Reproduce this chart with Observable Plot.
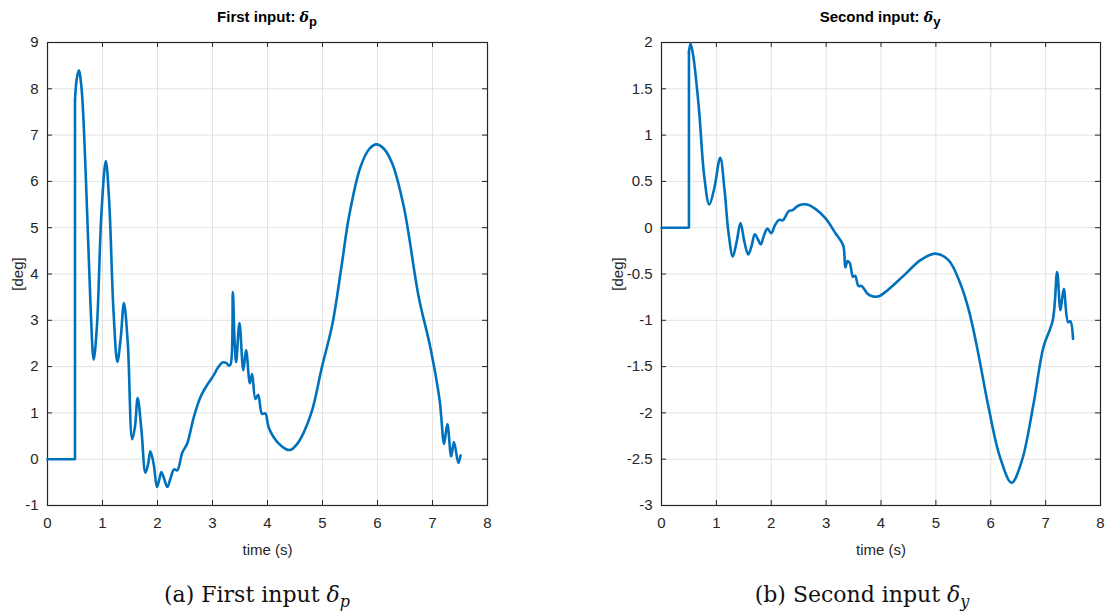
<!DOCTYPE html>
<html>
<head>
<meta charset="utf-8">
<script src="https://cdn.jsdelivr.net/npm/d3@7"></script>
<script src="https://cdn.jsdelivr.net/npm/@observablehq/plot@0.6"></script>
<style>
  body { margin: 0; background: #fff; width: 1106px; height: 612px; position: relative; overflow: hidden; }
  .panel { position: absolute; top: 0; }
  .ttl { position: absolute; top: 8px; font-family: "Liberation Sans Narrow", "Liberation Sans", Arial, sans-serif; font-weight: bold; font-size: 15px; color: #000; white-space: nowrap; transform: translateX(-50%); }
  .ttl sub { font-size: 13px; }
  .cap { position: absolute; top: 582px; font-family: "DejaVu Serif", "Liberation Serif", serif; font-size: 22px; color: #111; white-space: nowrap; transform: translateX(-50%); }
  .cap sub { font-size: 16px; }
</style>
</head>
<body>
<div id="left" class="panel" style="left:0px"></div>
<div id="right" class="panel" style="left:600px"></div>
<script>
// ---- data: first input δp ----
const tP = [0, 0.5, 0.5, 0.53, 0.57, 0.62, 0.7, 0.78, 0.84, 0.9, 0.98, 1.06, 1.12, 1.2, 1.27, 1.33, 1.39, 1.46, 1.54, 1.59, 1.64, 1.71, 1.78, 1.83, 1.87, 1.93, 1.99, 2.03, 2.07, 2.12, 2.18, 2.24, 2.30, 2.36, 2.45, 2.54, 2.66, 2.78, 2.9, 3.02, 3.1, 3.18, 3.25, 3.30, 3.33, 3.37, 3.40, 3.43, 3.49, 3.56, 3.61, 3.68, 3.72, 3.78, 3.83, 3.90, 3.96, 4.02, 4.11, 4.21, 4.33, 4.42, 4.54, 4.66, 4.81, 4.99, 5.18, 5.35, 5.48, 5.69, 5.85, 5.98, 6.12, 6.27, 6.48, 6.75, 6.96, 7.13, 7.16, 7.21, 7.27, 7.34, 7.39, 7.47, 7.51];
const vP = [0, 0, 7.75, 8.2, 8.40, 8.0, 6.0, 3.4, 2.15, 2.9, 5.3, 6.44, 5.6, 3.2, 2.10, 2.6, 3.37, 2.5, 0.43, 0.7, 1.32, 0.6, -0.29, -0.1, 0.17, -0.1, -0.60, -0.45, -0.28, -0.42, -0.60, -0.40, -0.22, -0.24, 0.14, 0.34, 0.91, 1.34, 1.6, 1.81, 1.98, 2.09, 2.08, 2.02, 2.05, 3.61, 2.6, 2.10, 2.94, 1.92, 2.36, 1.64, 1.84, 1.30, 1.39, 0.98, 0.99, 0.69, 0.48, 0.33, 0.22, 0.20, 0.33, 0.58, 1.05, 1.99, 2.92, 4.2, 5.23, 6.31, 6.7, 6.80, 6.7, 6.38, 5.44, 3.50, 2.42, 1.27, 0.9, 0.33, 0.76, 0.06, 0.37, -0.08, 0.08];
// ---- data: second input δy ----
const tY = [0, 0.5, 0.5, 0.53, 0.58, 0.68, 0.78, 0.87, 0.96, 1.07, 1.15, 1.22, 1.30, 1.37, 1.44, 1.51, 1.58, 1.64, 1.70, 1.76, 1.81, 1.87, 1.93, 2.00, 2.07, 2.14, 2.21, 2.32, 2.39, 2.50, 2.65, 2.81, 2.99, 3.17, 3.31, 3.35, 3.39, 3.43, 3.49, 3.53, 3.59, 3.65, 3.75, 3.84, 3.96, 4.11, 4.41, 4.72, 4.99, 5.23, 5.45, 5.60, 5.75, 5.96, 6.17, 6.38, 6.57, 6.78, 6.96, 7.13, 7.21, 7.27, 7.33, 7.41, 7.45, 7.50];
const vY = [0, 0, 1.9, 1.99, 1.85, 1.30, 0.55, 0.25, 0.42, 0.755, 0.4, -0.05, -0.31, -0.15, 0.05, -0.15, -0.29, -0.2, -0.07, -0.13, -0.18, -0.08, -0.01, -0.06, 0.03, 0.085, 0.08, 0.18, 0.19, 0.24, 0.25, 0.20, 0.10, -0.06, -0.19, -0.43, -0.36, -0.38, -0.53, -0.52, -0.63, -0.63, -0.71, -0.74, -0.74, -0.68, -0.52, -0.35, -0.28, -0.35, -0.61, -0.89, -1.29, -1.94, -2.48, -2.755, -2.51, -1.90, -1.29, -1.00, -0.48, -0.89, -0.66, -1.02, -1.01, -1.20];
// ---- ticks ----
const xTicks = [0, 1, 2, 3, 4, 5, 6, 7, 8];
const yTicksP = [-1, 0, 1, 2, 3, 4, 5, 6, 7, 8, 9];
const yTicksY = [-3, -2.5, -2, -1.5, -1, -0.5, 0, 0.5, 1, 1.5, 2];

const FONT = '"Liberation Sans Narrow", "Liberation Sans", Arial, sans-serif';
const AX = "#262626";
const BLUE = "#0072BD";

function chart(t, v, yTicks, yDomain, width, mLeft, mRight) {
  const height = 560, mTop = 42, mBottom = 55;
  const ph = height - mTop - mBottom;
  const pw = width - mLeft - mRight;
  const data = t.map((d, i) => ({t: d, v: v[i]}));
  const stepPart = data.slice(0, 3);      // flat segment + vertical jump (linear)
  const smoothPart = data.slice(2);       // response after the jump (smooth)
  return Plot.plot({
    width, height,
    marginLeft: mLeft, marginRight: mRight, marginTop: mTop, marginBottom: mBottom,
    style: {fontFamily: FONT, fontSize: "15px", color: AX, background: "transparent"},
    x: {domain: [0, 8]},
    y: {domain: yDomain},
    marks: [
      Plot.ruleX(xTicks, {stroke: "#e3e3e3", strokeWidth: 1}),
      Plot.ruleY(yTicks, {stroke: "#e3e3e3", strokeWidth: 1}),
      Plot.ruleX(xTicks, {stroke: AX, insetTop: ph - 5}),
      Plot.ruleX(xTicks, {stroke: AX, insetBottom: ph - 5}),
      Plot.ruleY(yTicks, {stroke: AX, insetRight: pw - 5}),
      Plot.ruleY(yTicks, {stroke: AX, insetLeft: pw - 5}),
      Plot.frame({stroke: AX, strokeWidth: 1.2}),
      Plot.axisX({ticks: xTicks, tickSize: 0, tickPadding: 12, tickFormat: d => String(d), label: "time (s)", labelAnchor: "center", labelArrow: "none", labelOffset: 49, fill: AX}),
      Plot.axisY({ticks: yTicks, tickSize: 0, tickPadding: 9, tickFormat: d => String(d), label: "[deg]", labelAnchor: "center", labelArrow: "none", labelOffset: mLeft - 12, fill: AX}),
      Plot.line(stepPart, {x: "t", y: "v", stroke: BLUE, strokeWidth: 2.6, strokeLinejoin: "miter"}),
      Plot.line(smoothPart, {x: "t", y: "v", stroke: BLUE, strokeWidth: 2.6, curve: "catmull-rom"})
    ]
  });
}

document.getElementById("left").appendChild(chart(tP, vP, yTicksP, [-1, 9], 500, 47, 13));
document.getElementById("right").appendChild(chart(tY, vY, yTicksY, [-3, 2], 506, 61, 6));
</script>
<div class="ttl" style="left:267px">First input: <i style="font-family:'DejaVu Serif',serif;font-size:14px">δ</i><sub>p</sub></div>
<div class="ttl" style="left:880px">Second input: <i style="font-family:'DejaVu Serif',serif;font-size:14px">δ</i><sub>y</sub></div>
<div class="cap" style="left:257px">(a) First input <i>δ</i><sub><i>p</i></sub></div>
<div class="cap" style="left:862px">(b) Second input <i>δ</i><sub><i>y</i></sub></div>
</body>
</html>
